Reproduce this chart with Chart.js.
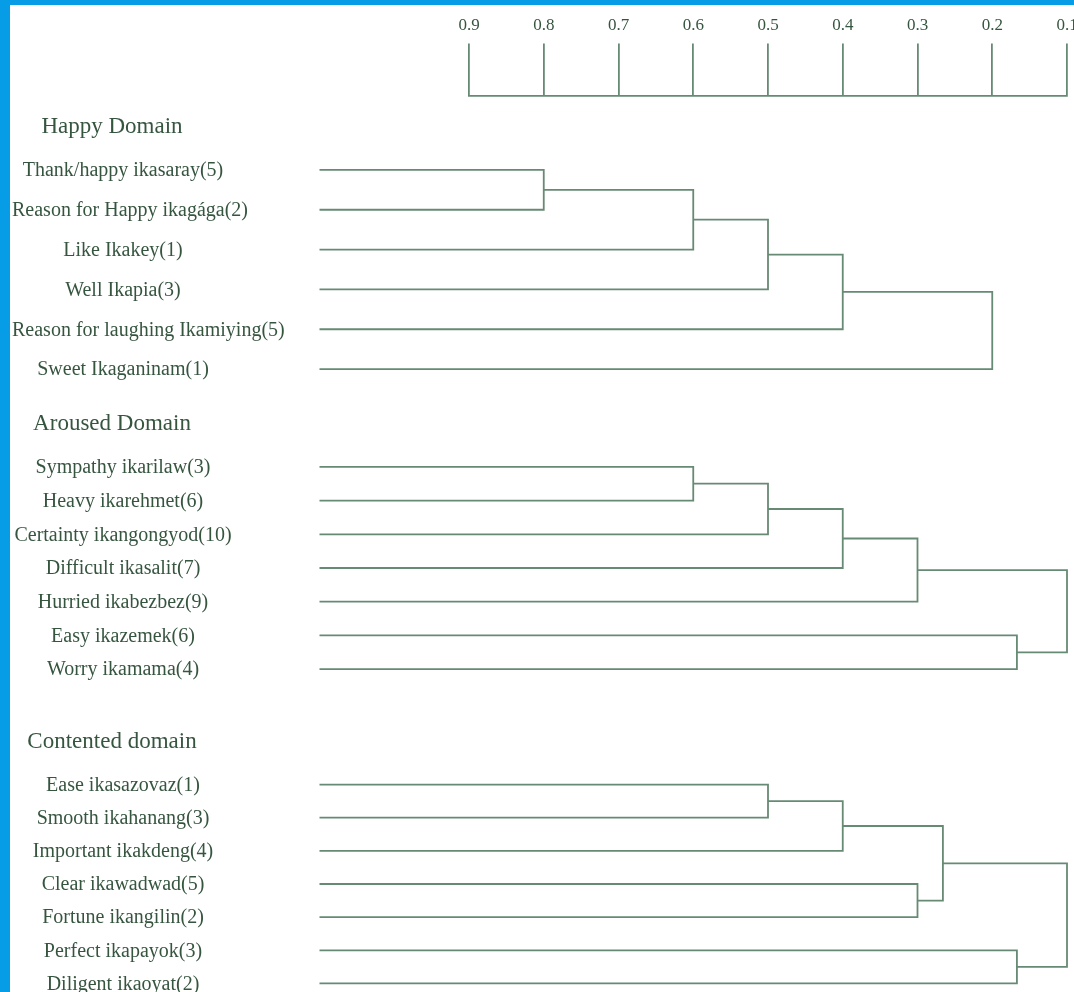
<!DOCTYPE html>
<html>
<head>
<meta charset="utf-8">
<script src="https://cdn.jsdelivr.net/npm/chart.js@4.4.1/dist/chart.umd.min.js"></script>
<style>
  html, body { margin: 0; padding: 0; background: #fff; overflow: hidden; }
  body { width: 1074px; height: 992px; position: relative; }
  .bar-top { position: absolute; left: 0; top: 0; width: 1074px; height: 5px; background: #069ce6; z-index: 5; }
  .bar-left { position: absolute; left: 0; top: 0; width: 10px; height: 992px; background: #069ce6; z-index: 5; }
  .box { position: absolute; left: 0; width: 1074px; }
</style>
</head>
<body>
<div class="bar-top"></div>
<div class="bar-left"></div>
<div class="box" style="top:0;height:200px"><canvas id="axisChart"></canvas></div>
<div class="box" style="top:90px;height:309px"><canvas id="happyChart"></canvas></div>
<div class="box" style="top:390px;height:306px"><canvas id="arousedChart"></canvas></div>
<div class="box" style="top:708px;height:302px"><canvas id="contentedChart"></canvas></div>

<script>
// Escala de similaridade (topo)
const scaleTicks = [0.9, 0.8, 0.7, 0.6, 0.5, 0.4, 0.3, 0.2, 0.1];
const leafStart = 1.1;

const groupTitles = ['Happy Domain', 'Aroused Domain', 'Contented domain'];

const happyLeaves = [
  'Thank/happy ikasaray(5)',
  'Reason for Happy ikagága(2)',
  'Like Ikakey(1)',
  'Well Ikapia(3)',
  'Reason for laughing Ikamiying(5)',
  'Sweet Ikaganinam(1)',
];
// pares unidos (folhas 0..n-1, depois nós n, n+1, ...) e altura de cada união
const happyPairs = [[0, 1], [6, 2], [7, 3], [8, 4], [9, 5]];
const happyHeights = [0.8, 0.6, 0.5, 0.4, 0.2];

const arousedLeaves = [
  'Sympathy ikarilaw(3)',
  'Heavy ikarehmet(6)',
  'Certainty ikangongyod(10)',
  'Difficult ikasalit(7)',
  'Hurried ikabezbez(9)',
  'Easy ikazemek(6)',
  'Worry ikamama(4)',
];
const arousedPairs = [[0, 1], [7, 2], [8, 3], [9, 4], [5, 6], [10, 11]];
const arousedHeights = [0.6, 0.5, 0.4, 0.3, 0.167, 0.1];

const contentedLeaves = [
  'Ease ikasazovaz(1)',
  'Smooth ikahanang(3)',
  'Important ikakdeng(4)',
  'Clear ikawadwad(5)',
  'Fortune ikangilin(2)',
  'Perfect ikapayok(3)',
  'Diligent ikaoyat(2)',
];
const contentedPairs = [[0, 1], [7, 2], [3, 4], [8, 9], [5, 6], [10, 11]];
const contentedHeights = [0.5, 0.4, 0.3, 0.266, 0.167, 0.1];

const LINE = '#678a74';
const TEXT = '#36553f';
const SERIF = '"Liberation Serif", "Times New Roman", serif';

const X_SCALE = {
  type: 'linear',
  reverse: true,
  min: 0.1,
  max: 0.9,
};

function renderAxis(canvasId) {
  const ctx = document.getElementById(canvasId)?.getContext('2d');
  if (!ctx) return null;

  return new Chart(ctx, {
    type: 'scatter',
    data: { datasets: [] },
    options: {
      responsive: true,
      maintainAspectRatio: false,
      animation: false,
      events: [],
      layout: { padding: { left: 469, right: 7, top: 7, bottom: 0 } },
      plugins: { legend: { display: false }, tooltip: { enabled: false } },
      scales: {
        x: {
          ...X_SCALE,
          position: 'top',
          afterBuildTicks: s => { s.ticks = scaleTicks.map(v => ({ value: v })); },
          afterFit: s => { s.paddingLeft = 0; s.paddingRight = 0; },
          ticks: {
            color: TEXT,
            font: { family: SERIF, size: 17 },
            padding: 8,
            maxRotation: 0,
            autoSkip: false,
            callback: v => Number(v).toFixed(1),
          },
          grid: { drawOnChartArea: false, drawTicks: true, tickLength: 52, color: LINE, lineWidth: 1.8 },
          border: { display: true, color: LINE, width: 1.8 },
        },
        y: { display: false, min: 0, max: 1 },
      }
    }
  });
}

// nomes das folhas e título do grupo
const labelPlugin = {
  id: 'leafLabels',
  afterDraw(chart, args, opts) {
    const { ctx } = chart;
    const y = chart.scales.y;
    ctx.save();
    ctx.fillStyle = TEXT;
    ctx.textBaseline = 'middle';
    ctx.textAlign = 'center';

    ctx.font = `23px ${SERIF}`;
    ctx.fillText(opts.title, 112, y.getPixelForValue(1) - 43);

    ctx.font = `20px ${SERIF}`;
    opts.leaves.forEach((name, i) => {
      const w = ctx.measureText(name).width;
      const cx = Math.max(123, 12 + w / 2);
      ctx.fillText(name, cx, y.getPixelForValue(i + 1) + 1);
    });
    ctx.restore();
  }
};

function buildLinks(leaves, pairs, heights) {
  // posição de cada nó: [altura, linha]
  const nodes = leaves.map((_, i) => [leafStart, i + 1]);
  const datasets = [];
  pairs.forEach(([a, b], k) => {
    const h = heights[k];
    const [ax, ay] = nodes[a];
    const [bx, by] = nodes[b];
    datasets.push({
      data: [{ x: ax, y: ay }, { x: h, y: ay }, { x: h, y: by }, { x: bx, y: by }],
      showLine: true,
      borderColor: LINE,
      borderWidth: 1.8,
      pointRadius: 0,
      tension: 0,
      clip: false,
    });
    nodes.push([h, (ay + by) / 2]);
  });
  return datasets;
}

function renderDendro(canvasId, title, leaves, pairs, heights) {
  const ctx = document.getElementById(canvasId)?.getContext('2d');
  if (!ctx) return null;

  return new Chart(ctx, {
    type: 'scatter',
    data: { datasets: buildLinks(leaves, pairs, heights) },
    plugins: [labelPlugin],
    options: {
      responsive: true,
      maintainAspectRatio: false,
      animation: false,
      events: [],
      layout: { padding: { left: 469, right: 7, top: 60, bottom: 10 } },
      plugins: {
        legend: { display: false },
        tooltip: { enabled: false },
        leafLabels: { title, leaves },
      },
      scales: {
        x: { ...X_SCALE, display: false },
        y: { type: 'linear', display: false, reverse: true, min: 0.5, max: leaves.length + 0.5 },
      }
    }
  });
}

renderAxis('axisChart');
renderDendro('happyChart', groupTitles[0], happyLeaves, happyPairs, happyHeights);
renderDendro('arousedChart', groupTitles[1], arousedLeaves, arousedPairs, arousedHeights);
renderDendro('contentedChart', groupTitles[2], contentedLeaves, contentedPairs, contentedHeights);
</script>
</body>
</html>
